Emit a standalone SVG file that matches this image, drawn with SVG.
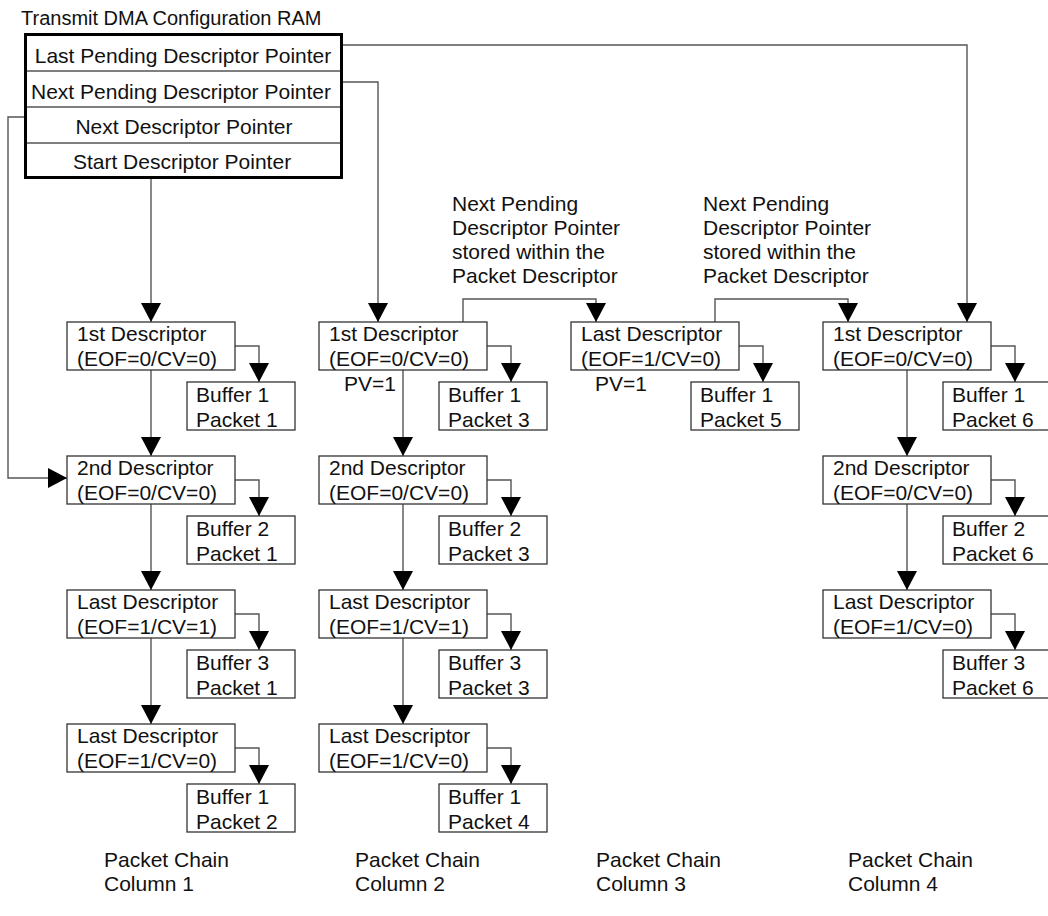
<svg xmlns="http://www.w3.org/2000/svg" width="1048" height="916" viewBox="0 0 1048 916">
<style>
text{font-family:"Liberation Sans",Arial,sans-serif;font-size:21px;fill:#111}
.box{fill:#fff;stroke:#333;stroke-width:1.3}
.ln{fill:none;stroke:#555;stroke-width:1.4}
.arr{fill:none;stroke:#555;stroke-width:1.4;marker-end:url(#ah)}
.c{text-anchor:middle}
</style>
<defs>
<marker id="ah" viewBox="0 0 19 20" refX="19" refY="10" markerWidth="19" markerHeight="20" markerUnits="userSpaceOnUse" orient="auto"><path d="M0,0 L19,10 L0,20 Z" fill="#000"/></marker>
</defs>
<rect width="1048" height="916" fill="#fff"/>

<g id="connectors">
<polyline class="arr" points="151,179 151,322"/>
<polyline class="arr" points="343,82 378,82 378,322"/>
<polyline class="arr" points="343,45 967,45 967,322"/>
<polyline class="arr" points="24,117 8,117 8,478 67,478"/>
<polyline class="arr" points="463,322 463,299 596,299 596,322"/>
<polyline class="arr" points="715,322 715,299 848,299 848,322"/>
<polyline class="arr" points="151,370 151,456"/>
<polyline class="arr" points="151,504 151,590"/>
<polyline class="arr" points="151,638 151,724"/>
<polyline class="arr" points="403,370 403,456"/>
<polyline class="arr" points="403,504 403,590"/>
<polyline class="arr" points="403,638 403,724"/>
<polyline class="arr" points="907,370 907,456"/>
<polyline class="arr" points="907,504 907,590"/>
<polyline class="arr" points="235,346 259,346 259,382"/>
<polyline class="arr" points="235,480 259,480 259,516"/>
<polyline class="arr" points="235,614 259,614 259,650"/>
<polyline class="arr" points="235,748 259,748 259,784"/>
<polyline class="arr" points="487,346 511,346 511,382"/>
<polyline class="arr" points="487,480 511,480 511,516"/>
<polyline class="arr" points="487,614 511,614 511,650"/>
<polyline class="arr" points="487,748 511,748 511,784"/>
<polyline class="arr" points="739,346 763,346 763,382"/>
<polyline class="arr" points="991,346 1015,346 1015,382"/>
<polyline class="arr" points="991,480 1015,480 1015,516"/>
<polyline class="arr" points="991,614 1015,614 1015,650"/>
</g>

<g id="ram">
<text x="21" y="25" style="font-size:20px">Transmit DMA Configuration RAM</text>
<rect x="25.5" y="34.5" width="316" height="143" fill="#fff" stroke="#000" stroke-width="3"/>
<line class="ln" x1="27" y1="71" x2="340" y2="71"/>
<line class="ln" x1="27" y1="107" x2="340" y2="107"/>
<line class="ln" x1="27" y1="143" x2="340" y2="143"/>
<text class="c" x="183" y="63">Last Pending Descriptor Pointer</text>
<text class="c" x="181" y="99">Next Pending Descriptor Pointer</text>
<text class="c" x="184" y="134">Next Descriptor Pointer</text>
<text class="c" x="182" y="169">Start Descriptor Pointer</text>
</g>

<g id="col1">
<g id="c1d1"><rect class="box" x="67" y="322" width="168" height="48"/><text x="77" y="341">1st Descriptor</text><text x="77" y="366">(EOF=0/CV=0)</text></g>
<g id="c1b1"><rect class="box" x="187" y="382" width="108" height="48"/><text x="196" y="402">Buffer 1</text><text x="196" y="427">Packet 1</text></g>
<g id="c1d2"><rect class="box" x="67" y="456" width="168" height="48"/><text x="77" y="475">2nd Descriptor</text><text x="77" y="500">(EOF=0/CV=0)</text></g>
<g id="c1b2"><rect class="box" x="187" y="516" width="108" height="48"/><text x="196" y="536">Buffer 2</text><text x="196" y="561">Packet 1</text></g>
<g id="c1d3"><rect class="box" x="67" y="590" width="168" height="48"/><text x="77" y="609">Last Descriptor</text><text x="77" y="634">(EOF=1/CV=1)</text></g>
<g id="c1b3"><rect class="box" x="187" y="650" width="108" height="48"/><text x="196" y="670">Buffer 3</text><text x="196" y="695">Packet 1</text></g>
<g id="c1d4"><rect class="box" x="67" y="724" width="168" height="48"/><text x="77" y="743">Last Descriptor</text><text x="77" y="768">(EOF=1/CV=0)</text></g>
<g id="c1b4"><rect class="box" x="187" y="784" width="108" height="48"/><text x="196" y="804">Buffer 1</text><text x="196" y="829">Packet 2</text></g>
</g>

<g id="col2">
<g id="c2d1"><rect class="box" x="319" y="322" width="168" height="48"/><text x="329" y="341">1st Descriptor</text><text x="329" y="366">(EOF=0/CV=0)</text></g>
<text x="344" y="391">PV=1</text>
<g id="c2b1"><rect class="box" x="439" y="382" width="108" height="48"/><text x="448" y="402">Buffer 1</text><text x="448" y="427">Packet 3</text></g>
<g id="c2d2"><rect class="box" x="319" y="456" width="168" height="48"/><text x="329" y="475">2nd Descriptor</text><text x="329" y="500">(EOF=0/CV=0)</text></g>
<g id="c2b2"><rect class="box" x="439" y="516" width="108" height="48"/><text x="448" y="536">Buffer 2</text><text x="448" y="561">Packet 3</text></g>
<g id="c2d3"><rect class="box" x="319" y="590" width="168" height="48"/><text x="329" y="609">Last Descriptor</text><text x="329" y="634">(EOF=1/CV=1)</text></g>
<g id="c2b3"><rect class="box" x="439" y="650" width="108" height="48"/><text x="448" y="670">Buffer 3</text><text x="448" y="695">Packet 3</text></g>
<g id="c2d4"><rect class="box" x="319" y="724" width="168" height="48"/><text x="329" y="743">Last Descriptor</text><text x="329" y="768">(EOF=1/CV=0)</text></g>
<g id="c2b4"><rect class="box" x="439" y="784" width="108" height="48"/><text x="448" y="804">Buffer 1</text><text x="448" y="829">Packet 4</text></g>
</g>

<g id="col3">
<g id="c3d1"><rect class="box" x="571" y="322" width="168" height="48"/><text x="581" y="341">Last Descriptor</text><text x="581" y="366">(EOF=1/CV=0)</text></g>
<text x="595" y="391">PV=1</text>
<g id="c3b1"><rect class="box" x="691" y="382" width="108" height="48"/><text x="700" y="402">Buffer 1</text><text x="700" y="427">Packet 5</text></g>
</g>

<g id="col4">
<g id="c4d1"><rect class="box" x="823" y="322" width="168" height="48"/><text x="833" y="341">1st Descriptor</text><text x="833" y="366">(EOF=0/CV=0)</text></g>
<g id="c4b1"><rect class="box" x="943" y="382" width="108" height="48"/><text x="952" y="402">Buffer 1</text><text x="952" y="427">Packet 6</text></g>
<g id="c4d2"><rect class="box" x="823" y="456" width="168" height="48"/><text x="833" y="475">2nd Descriptor</text><text x="833" y="500">(EOF=0/CV=0)</text></g>
<g id="c4b2"><rect class="box" x="943" y="516" width="108" height="48"/><text x="952" y="536">Buffer 2</text><text x="952" y="561">Packet 6</text></g>
<g id="c4d3"><rect class="box" x="823" y="590" width="168" height="48"/><text x="833" y="609">Last Descriptor</text><text x="833" y="634">(EOF=1/CV=0)</text></g>
<g id="c4b3"><rect class="box" x="943" y="650" width="108" height="48"/><text x="952" y="670">Buffer 3</text><text x="952" y="695">Packet 6</text></g>
</g>

<g id="notes">
<text x="452" y="211">Next Pending</text>
<text x="452" y="235">Descriptor Pointer</text>
<text x="452" y="259">stored within the</text>
<text x="452" y="283">Packet Descriptor</text>
<text x="703" y="211">Next Pending</text>
<text x="703" y="235">Descriptor Pointer</text>
<text x="703" y="259">stored within the</text>
<text x="703" y="283">Packet Descriptor</text>
</g>

<g id="labels">
<text x="104" y="867">Packet Chain</text><text x="104" y="891">Column 1</text>
<text x="355" y="867">Packet Chain</text><text x="355" y="891">Column 2</text>
<text x="596" y="867">Packet Chain</text><text x="596" y="891">Column 3</text>
<text x="848" y="867">Packet Chain</text><text x="848" y="891">Column 4</text>
</g>
</svg>
